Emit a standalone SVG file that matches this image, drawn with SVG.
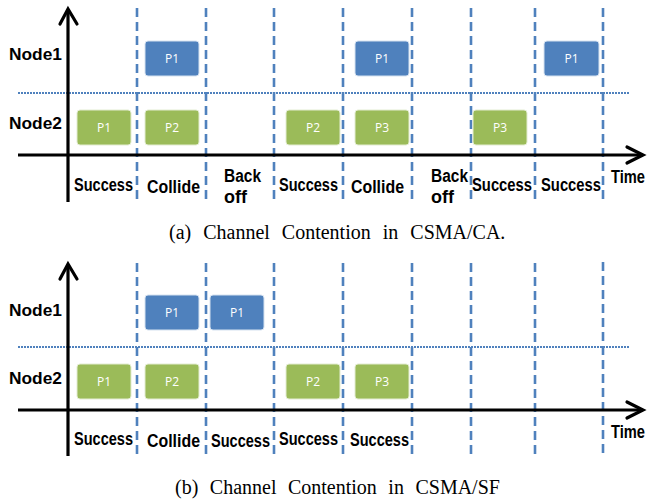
<svg xmlns="http://www.w3.org/2000/svg" width="651" height="500" viewBox="0 0 651 500">
  <style>
    .axis { stroke: #000; stroke-width: 3.2; fill: none; }
    .head { stroke: #000; stroke-width: 3.2; fill: none; stroke-linecap: round; stroke-linejoin: miter; }
    .slot { stroke: #4F81BD; stroke-width: 2.6; stroke-dasharray: 9 5; fill: none; }
    .split { stroke: #4F81BD; stroke-width: 2.2; stroke-dasharray: 2 1; fill: none; }
    .blue { fill: #4F81BD; stroke: #D6E2F0; stroke-width: 1; }
    .green { fill: #9BBB59; stroke: #E3ECD2; stroke-width: 1; }
    .pkt { font-family: "Open Sans", "Liberation Sans", sans-serif; font-size: 12px; fill: #fff; text-anchor: middle; dominant-baseline: central; }
    .lbl { font-family: "Liberation Sans", Arial, sans-serif; font-weight: bold; font-size: 17.5px; fill: #000; }
    .node { font-family: "Liberation Sans", Arial, sans-serif; font-weight: bold; font-size: 17px; fill: #000; }
    .cap { font-family: "Liberation Serif", "Times New Roman", serif; font-size: 20px; fill: #000; }
  </style>

  <!-- (a) CSMA/CA -->
  <g id="panel-a">
    <g id="a-connectors">
      <line class="split" x1="18" y1="93" x2="630" y2="93"/>
      <line class="slot" x1="137" y1="8" x2="137" y2="204"/>
      <line class="slot" x1="206" y1="8" x2="206" y2="204"/>
      <line class="slot" x1="274" y1="8" x2="274" y2="204"/>
      <line class="slot" x1="343" y1="8" x2="343" y2="204"/>
      <line class="slot" x1="412" y1="8" x2="412" y2="204"/>
      <line class="slot" x1="471" y1="8" x2="471" y2="204"/>
      <line class="slot" x1="535" y1="8" x2="535" y2="204"/>
      <line class="slot" x1="603" y1="8" x2="603" y2="204"/>
      <line class="axis" x1="68" y1="10" x2="68" y2="202"/>
      <polyline class="head" points="60,24 68,9 77,24"/>
      <line class="axis" x1="18" y1="155" x2="643" y2="155"/>
      <polyline class="head" points="627,147 643,155 627,163"/>
    </g>
    <g id="a-node1"><text class="node" x="9" y="60" textLength="53" lengthAdjust="spacingAndGlyphs">Node1</text></g>
    <g id="a-node2"><text class="node" x="9" y="129" textLength="53" lengthAdjust="spacingAndGlyphs">Node2</text></g>
    <g id="a-pkt1"><rect class="blue" x="145" y="41" width="54" height="35" rx="3"/><text class="pkt" x="172" y="58.5">P1</text></g>
    <g id="a-pkt2"><rect class="blue" x="355" y="41" width="54" height="35" rx="3"/><text class="pkt" x="382" y="58.5">P1</text></g>
    <g id="a-pkt3"><rect class="blue" x="544" y="41" width="55" height="35" rx="3"/><text class="pkt" x="571.5" y="58.5">P1</text></g>
    <g id="a-pkt4"><rect class="green" x="77" y="110" width="54" height="35" rx="3"/><text class="pkt" x="104" y="127.5">P1</text></g>
    <g id="a-pkt5"><rect class="green" x="145" y="110" width="54" height="35" rx="3"/><text class="pkt" x="172" y="127.5">P2</text></g>
    <g id="a-pkt6"><rect class="green" x="286" y="110" width="54" height="35" rx="3"/><text class="pkt" x="313" y="127.5">P2</text></g>
    <g id="a-pkt7"><rect class="green" x="355" y="110" width="54" height="35" rx="3"/><text class="pkt" x="382" y="127.5">P3</text></g>
    <g id="a-pkt8"><rect class="green" x="473" y="110" width="54" height="35" rx="3"/><text class="pkt" x="500" y="127.5">P3</text></g>
    <g id="a-labels">
      <text class="lbl" x="74" y="191" textLength="59" lengthAdjust="spacingAndGlyphs">Success</text>
      <text class="lbl" x="147" y="193" textLength="53" lengthAdjust="spacingAndGlyphs">Collide</text>
      <text class="lbl" x="224" y="182" textLength="37" lengthAdjust="spacingAndGlyphs">Back</text>
      <text class="lbl" x="224" y="203" textLength="23" lengthAdjust="spacingAndGlyphs">off</text>
      <text class="lbl" x="279" y="191" textLength="59" lengthAdjust="spacingAndGlyphs">Success</text>
      <text class="lbl" x="351" y="193" textLength="53" lengthAdjust="spacingAndGlyphs">Collide</text>
      <text class="lbl" x="431" y="182" textLength="37" lengthAdjust="spacingAndGlyphs">Back</text>
      <text class="lbl" x="431" y="203" textLength="23" lengthAdjust="spacingAndGlyphs">off</text>
      <text class="lbl" x="472" y="191" textLength="60" lengthAdjust="spacingAndGlyphs">Success</text>
      <text class="lbl" x="541" y="191" textLength="60" lengthAdjust="spacingAndGlyphs">Success</text>
      <text class="lbl" x="611" y="183" textLength="34" lengthAdjust="spacingAndGlyphs">Time</text>
    </g>
    <text class="cap" x="169" y="239" word-spacing="7">(a) Channel Contention in CSMA/CA.</text>
  </g>

  <!-- (b) CSMA/SF -->
  <g id="panel-b">
    <g id="b-connectors">
      <line class="split" x1="18" y1="347" x2="630" y2="347"/>
      <line class="slot" x1="137" y1="263" x2="137" y2="457"/>
      <line class="slot" x1="206" y1="263" x2="206" y2="457"/>
      <line class="slot" x1="274" y1="263" x2="274" y2="457"/>
      <line class="slot" x1="343" y1="263" x2="343" y2="457"/>
      <line class="slot" x1="412" y1="263" x2="412" y2="457"/>
      <line class="slot" x1="471" y1="263" x2="471" y2="457"/>
      <line class="slot" x1="535" y1="263" x2="535" y2="457"/>
      <line class="slot" x1="603" y1="262" x2="603" y2="457"/>
      <line class="axis" x1="68" y1="265" x2="68" y2="456"/>
      <polyline class="head" points="60,279 68,264 77,279"/>
      <line class="axis" x1="18" y1="410" x2="643" y2="410"/>
      <polyline class="head" points="627,402 643,410 627,418"/>
    </g>
    <g id="b-node1"><text class="node" x="9" y="316" textLength="53" lengthAdjust="spacingAndGlyphs">Node1</text></g>
    <g id="b-node2"><text class="node" x="9" y="384" textLength="53" lengthAdjust="spacingAndGlyphs">Node2</text></g>
    <g id="b-pkt1"><rect class="blue" x="145" y="295" width="54" height="35" rx="3"/><text class="pkt" x="172" y="312.5">P1</text></g>
    <g id="b-pkt2"><rect class="blue" x="210" y="295" width="54" height="35" rx="3"/><text class="pkt" x="237" y="312.5">P1</text></g>
    <g id="b-pkt3"><rect class="green" x="77" y="364" width="54" height="35" rx="3"/><text class="pkt" x="104" y="381.5">P1</text></g>
    <g id="b-pkt4"><rect class="green" x="145" y="364" width="54" height="35" rx="3"/><text class="pkt" x="172" y="381.5">P2</text></g>
    <g id="b-pkt5"><rect class="green" x="286" y="364" width="54" height="35" rx="3"/><text class="pkt" x="313" y="381.5">P2</text></g>
    <g id="b-pkt6"><rect class="green" x="355" y="364" width="54" height="35" rx="3"/><text class="pkt" x="382" y="381.5">P3</text></g>
    <g id="b-labels">
      <text class="lbl" x="74" y="445" textLength="59" lengthAdjust="spacingAndGlyphs">Success</text>
      <text class="lbl" x="147" y="447" textLength="53" lengthAdjust="spacingAndGlyphs">Collide</text>
      <text class="lbl" x="211" y="447" textLength="59" lengthAdjust="spacingAndGlyphs">Success</text>
      <text class="lbl" x="279" y="445" textLength="59" lengthAdjust="spacingAndGlyphs">Success</text>
      <text class="lbl" x="350" y="446" textLength="59" lengthAdjust="spacingAndGlyphs">Success</text>
      <text class="lbl" x="611" y="438" textLength="34" lengthAdjust="spacingAndGlyphs">Time</text>
    </g>
    <text class="cap" x="175" y="494" word-spacing="6.5">(b) Channel Contention in CSMA/SF</text>
  </g>
</svg>
